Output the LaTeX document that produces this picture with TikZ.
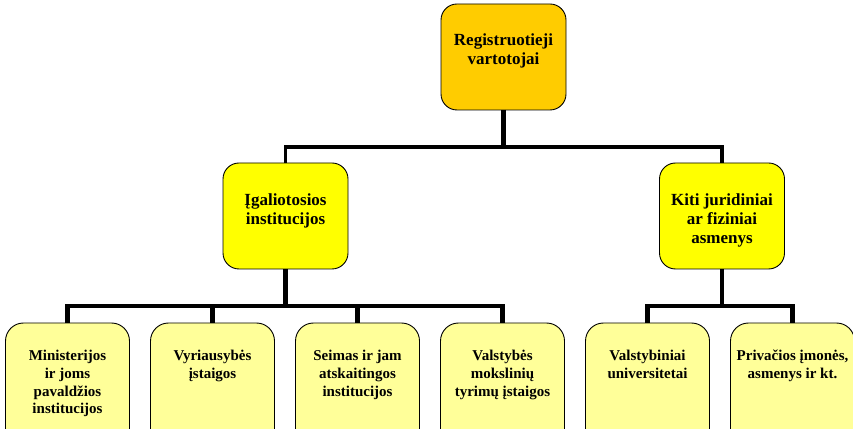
\documentclass[tikz,border=0pt]{standalone}
\usepackage{fontspec}
\setmainfont{Liberation Serif}
\usetikzlibrary{positioning}

\definecolor{topfill}{HTML}{FFCC00}
\definecolor{midfill}{HTML}{FFFF00}
\definecolor{lowfill}{HTML}{FFFF99}

\tikzset{
    box/.style={draw=black, line width=0.9pt, rounded corners=16pt, outer sep=0pt,
        minimum width=125pt, minimum height=106pt},
    topbox/.style={box, fill=topfill},
    midbox/.style={box, fill=midfill},
    lowbox/.style={box, fill=lowfill, rounded corners=18pt,
        minimum width=124pt, minimum height=125pt},
    bigtxt/.style={align=center, inner sep=0pt, font=\bfseries\fontsize{17}{19}\selectfont},
    smalltxt/.style={align=center, inner sep=0pt, font=\bfseries\fontsize{15}{17.7}\selectfont},
    trunk/.style={line width=5.5pt},
    branch/.style={line width=3.3pt},
    twig/.style={line width=4.3pt}
}

\begin{document}
\begin{tikzpicture}[x=1pt, y=1pt, node distance=145pt]
    \useasboundingbox (0,0) rectangle (853,428);
    \clip (0,0) rectangle (853,428);

    % Boxes {reg, igal, kiti, b1 ... b6}
    \node [topbox] 	(reg) 	at (503.5,371)	 {};
    \node [midbox] 	(igal) 	at (285.5,212)	 {};
    \node [midbox] 	(kiti) 	at (722,212)	 {};
    \node [lowbox] 	(b1) 	at (67.5,42.5)	 {};
    \node [lowbox] 	(b2) 	[right of=b1]	 {};
    \node [lowbox] 	(b3) 	[right of=b2]	 {};
    \node [lowbox] 	(b4) 	[right of=b3]	 {};
    \node [lowbox] 	(b5) 	[right of=b4]	 {};
    \node [lowbox] 	(b6) 	[right of=b5]	 {};

    % Texts
    \node [bigtxt] 	(reg-t) 	[below=29.8pt of reg.north]	 {Registruotieji\\vartotojai};
    \node [bigtxt] 	(igal-t) 	[below=30.5pt of igal.north] {Įgaliotosios\\institucijos};
    \node [bigtxt] 	(kiti-t) 	[below=30.5pt of kiti.north] {Kiti juridiniai\\ar fiziniai\\asmenys};
    \node [smalltxt] (b1-t) 	[below=27pt of b1.north]	 {Ministerijos\\ir joms\\pavaldžios\\institucijos};
    \node [smalltxt] (b2-t) 	[below=27pt of b2.north]	 {Vyriausybės\\įstaigos};
    \node [smalltxt] (b3-t) 	[below=27pt of b3.north]	 {Seimas ir jam\\atskaitingos\\institucijos};
    \node [smalltxt] (b4-t) 	[below=27pt of b4.north]	 {Valstybės\\mokslinių\\tyrimų įstaigos};
    \node [smalltxt] (b5-t) 	[below=27pt of b5.north]	 {Valstybiniai\\universitetai};
    \node [smalltxt] (b6-t) 	[below=27pt of b6.north]	 {Privačios įmonės,\\asmenys ir kt.};

    % Paths
    \draw [trunk] 	(reg.south) -- ++(0,-37) coordinate (j1);
    \draw [branch] 	(igal.north) |- (j1) -| (kiti.north);
    \draw [twig] 	(igal.south) -- ++(0,-37) coordinate (j2);
    \draw [twig] 	(kiti.south) -- ++(0,-37) coordinate (j3);
    \foreach \b in {b1,b2,b3,b4}
        \draw [twig] (\b.north) |- (j2);
    \foreach \b in {b5,b6}
        \draw [twig] (\b.north) |- (j3);

\end{tikzpicture}
\end{document}
